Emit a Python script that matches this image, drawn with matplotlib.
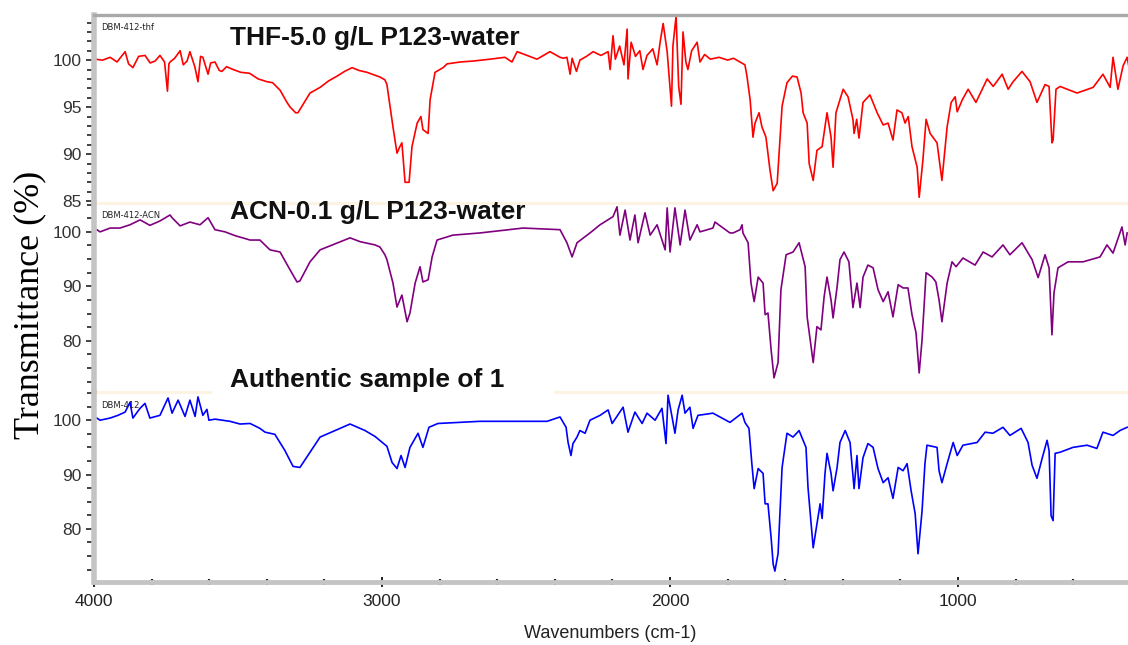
import numpy as np
import matplotlib.pyplot as plt
from matplotlib.ticker import MultipleLocator

# THF-5.0 g/L P123-water spectrum (wavenumber, %T)
thf_wn = [3997, 3970, 3944, 3920, 3892, 3880, 3865, 3845, 3823, 3805, 3788, 3771, 3755, 3745, 3740, 3736,
          3720, 3701, 3690, 3677, 3667, 3650, 3639, 3630, 3622, 3604, 3595, 3580, 3565, 3556, 3540, 3517,
          3490, 3460, 3430, 3399, 3380, 3354, 3330, 3319, 3300, 3292, 3270, 3250, 3215, 3185, 3156, 3130,
          3104, 3080, 3052, 3025, 3007, 2990, 2983, 2972, 2962, 2948, 2938, 2931, 2920, 2906, 2896, 2878,
          2865, 2858, 2840, 2833, 2816, 2788, 2774, 2729, 2684, 2625, 2573, 2549, 2531, 2462, 2417, 2382,
          2370, 2358, 2347, 2340, 2325, 2313, 2290, 2267, 2240, 2215, 2208, 2198, 2190, 2175, 2160, 2149,
          2146, 2135, 2120, 2105, 2094, 2080, 2060, 2045, 2035, 2024, 2010, 1995, 1990, 1979, 1970, 1962,
          1955, 1945, 1938, 1925, 1906, 1896, 1880, 1860, 1830, 1800, 1780, 1757, 1740, 1733, 1722, 1712,
          1705, 1691, 1681, 1667, 1653, 1642, 1628, 1611, 1594, 1575, 1559, 1545, 1538, 1524, 1517, 1503,
          1490, 1472, 1455, 1441, 1434, 1424, 1399, 1382, 1365, 1361, 1352, 1344, 1330, 1306, 1281, 1260,
          1243, 1226, 1212, 1195, 1184, 1173, 1160, 1142, 1135, 1122, 1111, 1097, 1073, 1056, 1038, 1024,
          1010, 1003, 985, 965, 938, 899, 878, 847, 826, 809, 778, 750, 726, 698, 684, 674,
          670, 660, 646, 587, 531, 497, 472, 462, 445, 427, 413, 405]
thf_t = [100.1, 100.0, 100.3, 99.8, 100.9, 99.6, 99.2, 100.4, 100.5, 99.7, 99.9, 100.5, 99.8, 96.7, 99.6, 99.8,
         100.2, 101.0, 99.5, 99.9, 100.9, 99.3, 97.7, 100.4, 100.3, 98.5, 99.7, 99.8, 98.9, 98.8, 99.3, 99.0,
         98.7, 98.6, 98.0, 97.7, 97.6, 96.8, 95.5, 95.0, 94.4, 94.4, 95.5, 96.5, 97.1, 97.8, 98.3, 98.8,
         99.2, 98.9, 98.7, 98.4, 98.2, 97.9, 97.4, 95.0, 92.9, 90.1, 90.8, 91.2, 87.0, 87.0, 90.8, 93.3,
         94.0, 92.6, 92.2, 95.8, 98.7, 99.2, 99.6, 99.8, 99.9, 100.1, 100.3, 99.8, 100.9, 100.1, 100.9, 100.3,
         100.2, 100.3, 98.5, 100.2, 98.8, 100.0, 100.4, 100.9, 100.5, 100.9, 99.0, 102.6, 100.1, 101.5, 99.5, 103.3,
         98.0, 101.9, 100.4, 101.0, 99.0, 100.5, 101.2, 99.5, 101.8, 103.9, 100.9, 95.1, 101.5, 104.7, 97.2, 95.3,
         103.0, 99.8, 99.0, 101.0, 101.9, 99.8, 100.6, 100.1, 100.3, 100.0, 100.2, 99.8, 99.5, 98.3, 95.8, 91.8,
         93.3, 94.4, 92.9, 91.8, 88.3, 86.1, 86.9, 95.1, 97.6, 98.3, 98.2, 96.5, 94.4, 93.3, 89.0, 87.2,
         90.4, 90.8, 94.4, 91.8, 88.6, 94.4, 96.9, 96.1, 93.7, 92.2, 93.7, 91.7, 95.5, 96.3, 94.4, 93.1,
         93.3, 91.5, 94.7, 94.4, 93.3, 94.0, 90.8, 88.6, 85.4, 89.4, 93.7, 92.2, 91.2, 87.2, 92.9, 95.5,
         96.1, 94.5, 95.8, 96.9, 95.5, 98.0, 97.2, 98.5, 96.9, 97.7, 98.8, 97.7, 95.5, 97.4, 97.2, 91.2,
         91.5, 96.9, 97.2, 96.5, 97.1, 98.5, 97.1, 100.3, 96.9, 99.4, 100.3, 99.0]

# ACN-0.1 g/L P123-water spectrum
acn_wn = [3990, 3979, 3944, 3910, 3875, 3840, 3806, 3771, 3736, 3729, 3701, 3667, 3632, 3604, 3580, 3545,
          3510, 3458, 3424, 3389, 3354, 3319, 3295, 3285, 3250, 3215, 3163, 3111, 3076, 3024, 3007, 2990,
          2983, 2962, 2948, 2931, 2913, 2903, 2885, 2868, 2858, 2840, 2826, 2809, 2754, 2660, 2510, 2382,
          2358, 2340, 2323, 2278, 2243, 2198, 2184, 2174, 2156, 2139, 2122, 2111, 2087, 2069, 2045, 2017,
          2010, 2000, 1983, 1965, 1948, 1931, 1906, 1896, 1851, 1844, 1792, 1781, 1757, 1750, 1747, 1729,
          1719, 1708, 1694, 1677, 1670, 1660, 1649, 1639, 1625, 1615, 1597, 1573, 1552, 1531, 1524, 1503,
          1490, 1476, 1465, 1455, 1441, 1434, 1420, 1410, 1396, 1379, 1365, 1351, 1340, 1330, 1313, 1295,
          1278, 1260, 1243, 1226, 1208, 1191, 1174, 1160, 1146, 1135, 1125, 1111, 1090, 1077, 1066, 1056,
          1038, 1021, 1007, 983, 941, 913, 882, 844, 820, 778, 743, 722, 698, 684, 674, 667,
          653, 618, 566, 507, 483, 462, 431, 420, 413]
acn_t = [100.4, 100.0, 100.7, 100.7, 101.3, 102.2, 101.2, 102.0, 103.1, 102.6, 101.1, 101.8, 101.3, 102.6, 100.4, 100.0,
         99.3, 98.5, 98.5, 96.7, 96.3, 93.0, 90.8, 91.0, 94.5, 96.7, 97.8, 98.9, 98.2, 97.6, 97.2, 95.8,
         94.9, 90.6, 86.2, 88.4, 83.5, 85.1, 90.6, 93.6, 90.8, 91.2, 95.4, 98.5, 99.4, 99.8, 100.7, 100.4,
         98.0, 95.4, 98.0, 99.8, 101.3, 102.8, 104.6, 99.4, 104.0, 98.5, 103.1, 98.0, 103.5, 99.4, 101.3, 96.7,
         104.4, 96.3, 104.4, 97.6, 104.0, 98.5, 101.3, 100.0, 100.7, 101.8, 99.8, 99.8, 100.4, 101.3, 99.8, 98.0,
         90.6, 87.2, 91.7, 90.6, 84.8, 85.1, 78.3, 73.2, 76.0, 89.4, 95.8, 96.3, 98.0, 93.6, 84.4, 76.0,
         82.6, 82.0, 88.1, 91.7, 87.5, 84.2, 89.9, 94.9, 96.3, 94.5, 86.1, 90.6, 86.1, 91.7, 93.9, 93.4,
         89.4, 87.2, 89.0, 84.4, 90.3, 89.7, 89.7, 84.8, 81.5, 74.1, 80.2, 92.5, 91.7, 90.8, 87.5, 83.5,
         90.6, 94.5, 93.6, 95.2, 93.9, 96.3, 95.4, 97.6, 95.8, 98.0, 94.9, 91.6, 95.8, 93.4, 81.1, 88.8,
         93.4, 94.5, 94.5, 95.4, 97.6, 96.1, 100.9, 97.6, 99.8]

# authentic sample spectrum
auth_wn = [3990, 3979, 3944, 3917, 3892, 3875, 3865, 3840, 3823, 3806, 3771, 3743, 3729, 3708, 3684, 3667,
           3649, 3639, 3622, 3608, 3601, 3580, 3528, 3493, 3458, 3424, 3406, 3372, 3337, 3309, 3285, 3250,
           3215, 3163, 3111, 3059, 3024, 2983, 2965, 2948, 2934, 2920, 2903, 2875, 2858, 2837, 2806, 2660,
           2427, 2382, 2361, 2354, 2344, 2337, 2323, 2313, 2295, 2278, 2243, 2215, 2201, 2163, 2146, 2122,
           2097, 2080, 2052, 2028, 2014, 2007, 1993, 1983, 1972, 1958, 1948, 1931, 1920, 1903, 1851, 1792,
           1750, 1740, 1726, 1716, 1708, 1694, 1677, 1670, 1660, 1649, 1642, 1636, 1625, 1611, 1594, 1573,
           1552, 1528, 1521, 1503, 1490, 1479, 1472, 1462, 1455, 1441, 1434, 1420, 1410, 1392, 1375, 1361,
           1351, 1344, 1330, 1313, 1295, 1278, 1260, 1243, 1226, 1208, 1191, 1177, 1163, 1149, 1139, 1125,
           1115, 1108, 1073, 1066, 1056, 1038, 1017, 1003, 983, 934, 906, 879, 844, 820, 781, 757,
           743, 726, 708, 691, 684, 677, 670, 663, 646, 601, 552, 518, 497, 462, 438, 413]
auth_t = [100.4, 100.0, 100.4, 100.9, 101.5, 103.3, 100.4, 102.2, 103.1, 100.4, 100.9, 104.1, 101.3, 103.7, 100.7, 103.7,
          100.7, 104.3, 100.9, 102.0, 100.0, 100.2, 99.8, 99.3, 99.4, 98.5, 97.8, 97.4, 94.4, 91.5, 91.3, 94.1,
          96.9, 98.1, 99.3, 98.1, 97.0, 95.2, 92.2, 91.1, 93.5, 91.3, 95.0, 97.6, 95.0, 98.7, 99.4, 99.8,
          99.8, 100.6, 98.7, 95.9, 93.5, 95.7, 96.9, 98.1, 97.6, 100.0, 100.9, 101.9, 99.4, 102.4, 97.8, 101.5,
          99.4, 101.3, 100.0, 102.2, 95.7, 104.6, 100.6, 97.6, 101.9, 104.6, 101.3, 102.4, 98.5, 100.9, 101.3, 99.6,
          101.3, 99.6, 98.5, 92.0, 87.4, 91.1, 90.2, 84.6, 84.6, 78.3, 73.5, 72.2, 75.4, 91.3, 97.6, 96.9,
          98.1, 95.0, 87.6, 76.5, 80.9, 84.6, 81.9, 90.2, 93.9, 90.2, 87.0, 91.3, 95.9, 98.1, 95.9, 87.4,
          93.5, 87.4, 93.1, 95.7, 95.0, 91.1, 88.5, 89.4, 85.6, 91.3, 90.7, 92.0, 87.0, 82.8, 75.4, 83.3,
          92.0, 95.4, 95.0, 90.7, 88.5, 92.0, 95.9, 93.5, 95.4, 95.9, 97.8, 97.6, 98.7, 97.2, 98.5, 95.9,
          91.7, 89.3, 93.0, 96.3, 94.4, 82.4, 81.5, 93.9, 94.1, 95.0, 95.4, 94.8, 97.8, 97.2, 98.1, 98.7]

W_PX, H_PX = 1128, 645
fig = plt.figure(figsize=(W_PX / 100, H_PX / 100), dpi=100)

left = 94 / W_PX
width = 1 - left


def frac_y(py):
    return 1 - py / H_PX


ax1 = fig.add_axes([left, frac_y(203), width, (203 - 15) / H_PX])
ax2 = fig.add_axes([left, frac_y(392), width, (392 - 203) / H_PX])
ax3 = fig.add_axes([left, frac_y(582), width, (582 - 392) / H_PX])

ax1.plot(thf_wn, thf_t, color="#ff0000", lw=1.2)
ax2.plot(acn_wn, acn_t, color="#800080", lw=1.2)
ax3.plot(auth_wn, auth_t, color="#0000ff", lw=1.2)

ax1.set_ylim(84.8, 104.8)
ax2.set_ylim(70.6, 105.3)
ax3.set_ylim(70.2, 105.2)
ax1.yaxis.set_major_locator(MultipleLocator(5))
ax1.yaxis.set_minor_locator(MultipleLocator(1))
for ax in (ax2, ax3):
    ax.yaxis.set_major_locator(MultipleLocator(10))
    ax.yaxis.set_minor_locator(MultipleLocator(2.5))

gray = "#c4c4c4"
beige = "#fcf3e3"
for ax in (ax1, ax2, ax3):
    ax.set_xlim(4000, 410)
    ax.set_facecolor("none")
    ax.spines["right"].set_visible(False)
    ax.spines["top"].set_visible(False)
    ax.spines["bottom"].set_visible(False)
    ax.spines["left"].set_color(gray)
    ax.spines["left"].set_linewidth(4)
    ax.tick_params(axis="y", which="major", direction="out", length=6, width=1.2,
                   color="#222222", labelsize=12.5, labelcolor="#333333", pad=3)
    ax.tick_params(axis="y", which="minor", direction="out", length=5, width=1.2, color="#222222")
    ax.tick_params(axis="x", which="both", bottom=False, labelbottom=False)
    for lab in ax.get_yticklabels():
        lab.set_fontfamily("Liberation Sans")

ax1.spines["top"].set_visible(True)
ax1.spines["top"].set_color("#a9a9a9")
ax1.spines["top"].set_linewidth(2.4)
ax1.spines["bottom"].set_visible(True)
ax1.spines["bottom"].set_color(beige)
ax1.spines["bottom"].set_linewidth(2.2)

# partial separator between the lower two panels
ax2.axhline(70.6, xmin=0, xmax=(210 - 94) / (W_PX - 94), color=beige, lw=2.2, clip_on=False)
ax2.axhline(70.6, xmin=(555 - 94) / (W_PX - 94), xmax=1, color=beige, lw=2.2, clip_on=False)

ax3.spines["bottom"].set_visible(True)
ax3.spines["bottom"].set_color(gray)
ax3.spines["bottom"].set_linewidth(3.5)
ax3.xaxis.set_major_locator(MultipleLocator(1000))
ax3.xaxis.set_minor_locator(MultipleLocator(200))
ax3.tick_params(axis="x", which="major", bottom=True, labelbottom=True, direction="inout",
                length=7, width=1.4, color="#222222", labelsize=12.5, labelcolor="#222222", pad=5)
ax3.tick_params(axis="x", which="minor", bottom=True, direction="inout", length=4.5, width=1.6, color="#222222")
for lab in ax3.get_xticklabels():
    lab.set_fontfamily("Liberation Sans")

title_kw = dict(fontsize=19, fontweight="bold", family="Liberation Sans", color="#111111", va="center", ha="left")
fig.text(230 / W_PX, frac_y(38), "THF-5.0 g/L P123-water", **title_kw)
fig.text(230 / W_PX, frac_y(212), "ACN-0.1 g/L P123-water", **title_kw)
fig.text(230 / W_PX, frac_y(380), "Authentic sample of 1", **title_kw)

small_kw = dict(fontsize=6, family="DejaVu Sans", color="#222222", va="center", ha="left")
fig.text(101 / W_PX, frac_y(28), "DBM-412-thf", **small_kw)
fig.text(101 / W_PX, frac_y(216), "DBM-412-ACN", **small_kw)
fig.text(101 / W_PX, frac_y(406), "DBM-412", **small_kw)

fig.text(30 / W_PX, frac_y(305), "Transmittance (%)", rotation=90, fontsize=26,
         family="Liberation Serif", ha="center", va="center")
fig.text(524 / W_PX, frac_y(633), "Wavenumbers (cm-1)", fontsize=13, family="Liberation Sans",
         color="#222222", ha="left", va="center")

fig.savefig("out.png", dpi=100)
